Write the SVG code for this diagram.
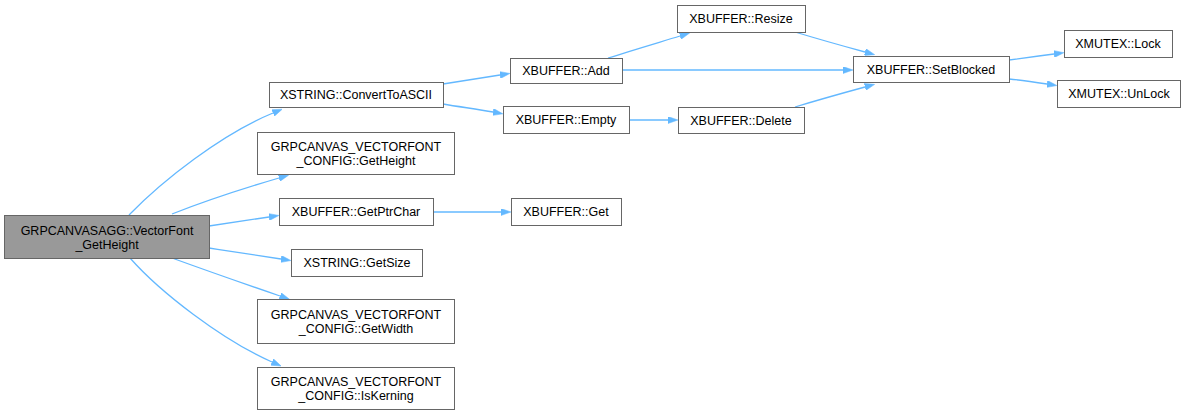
<svg xmlns="http://www.w3.org/2000/svg" width="1186" height="415" viewBox="0 0 1186 415">
<style>
.n rect{fill:#ffffff;stroke:#666666;stroke-width:1}
.n.main rect{fill:#999999}
.n text{font-family:"Liberation Sans",Arial,sans-serif;font-size:12.5px;fill:#000000;text-anchor:middle}
.e path{fill:none;stroke:#63b8ff;stroke-width:1.3}
</style>
<defs>
<marker id="ah" viewBox="0 0 10 7" refX="0" refY="3.5" markerWidth="10" markerHeight="7" markerUnits="userSpaceOnUse" orient="auto">
<path d="M0,0 L10,3.5 L0,7 z" fill="#63b8ff" stroke="#63b8ff" stroke-width="0.5"/>
</marker>
</defs>
<rect width="1186" height="415" fill="#ffffff"/>
<g id="edges" class="e">
<path marker-end="url(#ah)" d="M129,215 C163,180 222,134 273,113"/>
<path marker-end="url(#ah)" d="M172,214 C200,203 245,188 279,178"/>
<path marker-end="url(#ah)" d="M209,226 C230,223 250,220 269,217"/>
<path marker-end="url(#ah)" d="M209,248 C235,252 262,256 281,259"/>
<path marker-end="url(#ah)" d="M172,258 C205,270 245,284 280,296"/>
<path marker-end="url(#ah)" d="M130,258 C160,292 222,340 272,362"/>
<path marker-end="url(#ah)" d="M443,84 C462,81 481,78 500,75"/>
<path marker-end="url(#ah)" d="M443,104 C460,107 477,109 493,112"/>
<path marker-end="url(#ah)" d="M608,58 C630,51 657,43 680,36"/>
<path marker-end="url(#ah)" d="M622,70 L843,70"/>
<path marker-end="url(#ah)" d="M629,120 L668,120"/>
<path marker-end="url(#ah)" d="M795,32 C818,39 843,46 865,52"/>
<path marker-end="url(#ah)" d="M795,107 C818,100 843,93 865,87"/>
<path marker-end="url(#ah)" d="M1009,60 C1023,58 1039,56 1054,54"/>
<path marker-end="url(#ah)" d="M1009,79 C1020,80 1034,82 1047,84"/>
<path marker-end="url(#ah)" d="M433,212 L501,212"/>
</g>
<g id="node-main" class="n main"><rect x="4.5" y="215.5" width="205" height="43"/><text x="107" y="234.5">GRPCANVASAGG::VectorFont</text><text x="107" y="248.5">_GetHeight</text></g>
<g id="node-converttoascii" class="n"><rect x="269.5" y="82.5" width="174" height="25"/><text x="356" y="99">XSTRING::ConvertToASCII</text></g>
<g id="node-getheight" class="n"><rect x="257.5" y="132.5" width="197" height="42"/><text x="356" y="151">GRPCANVAS_VECTORFONT</text><text x="356" y="165">_CONFIG::GetHeight</text></g>
<g id="node-getptrchar" class="n"><rect x="279.5" y="198.5" width="154" height="27"/><text x="356" y="216">XBUFFER::GetPtrChar</text></g>
<g id="node-getsize" class="n"><rect x="291.5" y="249.5" width="131" height="27"/><text x="357" y="267">XSTRING::GetSize</text></g>
<g id="node-getwidth" class="n"><rect x="257.5" y="299.5" width="197" height="44"/><text x="356" y="319">GRPCANVAS_VECTORFONT</text><text x="356" y="333">_CONFIG::GetWidth</text></g>
<g id="node-iskerning" class="n"><rect x="257.5" y="367.5" width="197" height="42"/><text x="356" y="386">GRPCANVAS_VECTORFONT</text><text x="356" y="400">_CONFIG::IsKerning</text></g>
<g id="node-add" class="n"><rect x="510.5" y="58.5" width="112" height="25"/><text x="566" y="75">XBUFFER::Add</text></g>
<g id="node-empty" class="n"><rect x="503.5" y="106.5" width="126" height="27"/><text x="566" y="124">XBUFFER::Empty</text></g>
<g id="node-get" class="n"><rect x="511.5" y="198.5" width="110" height="27"/><text x="566" y="216">XBUFFER::Get</text></g>
<g id="node-resize" class="n"><rect x="677.5" y="5.5" width="128" height="27"/><text x="741" y="23">XBUFFER::Resize</text></g>
<g id="node-delete" class="n"><rect x="678.5" y="107.5" width="126" height="26"/><text x="741" y="125">XBUFFER::Delete</text></g>
<g id="node-setblocked" class="n"><rect x="853.5" y="56.5" width="156" height="26"/><text x="931" y="74">XBUFFER::SetBlocked</text></g>
<g id="node-lock" class="n"><rect x="1064.5" y="30.5" width="108" height="27"/><text x="1118" y="48">XMUTEX::Lock</text></g>
<g id="node-unlock" class="n"><rect x="1057.5" y="80.5" width="123" height="27"/><text x="1119" y="98">XMUTEX::UnLock</text></g>
</svg>
